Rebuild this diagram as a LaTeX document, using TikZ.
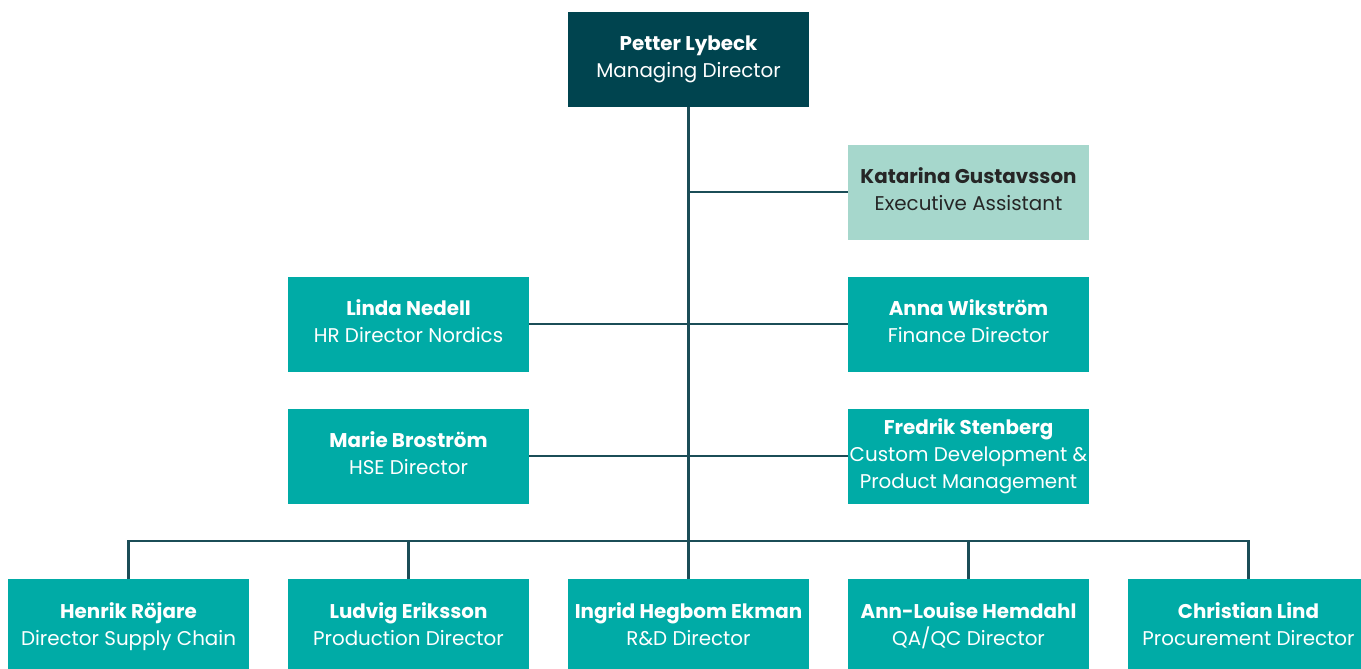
\documentclass[tikz,border=0pt]{standalone}
\usepackage{fontspec}
\setmainfont{Poppins}
\usepackage{tikz}
\usetikzlibrary{positioning}
\definecolor{mdteal}{HTML}{00444F}
\definecolor{boxteal}{HTML}{00ABA6}
\definecolor{assteal}{HTML}{A6D7CC}
\definecolor{linkteal}{HTML}{1B4D57}
\newcommand{\who}[2]{\strut\textbf{#1}\\\strut #2}
\tikzset{
    person/.style={
    rectangle,fill=boxteal,text=white,minimum width=4.82cm,minimum height=1.9cm,
    inner sep=0pt,align=center,font=\fontsize{11.3}{15.3}\selectfont
    },
    head/.style={
    person,fill=mdteal
    },
    assist/.style={
    person,fill=assteal,text=black!85
    },
    link/.style={
    draw=linkteal,line width=1.3pt
    },
}

\begin{document}
\begin{tikzpicture}
  \useasboundingbox (0,0) rectangle (27.22,-13.36);
   \node[head] (md) at (13.77,-1.18) {\who{Petter Lybeck}{Managing Director}};
   \node[assist] (ea) at (19.37,-3.84) {\who{Katarina Gustavsson}{Executive Assistant}};
   \node[person] (hr) at (8.17,-6.48) {\who{Linda Nedell}{HR Director Nordics}};
   \node[person] (fin) at (19.37,-6.48) {\who{Anna Wikström}{Finance Director}};
   \node[person] (hse) at (8.17,-9.12) {\who{Marie Broström}{HSE Director}};
   \node[person] (cdpm) at (19.37,-9.12) {\who{Fredrik Stenberg}{Custom Development \&}\\\strut Product Management};
   \node[person] (sc) at (2.57,-12.53) {\who{Henrik Röjare}{Director Supply Chain}};
   \node[person] (prod) at (8.17,-12.53) {\who{Ludvig Eriksson}{Production Director}};
   \node[person] (rd) at (13.77,-12.53) {\who{Ingrid Hegbom Ekman}{R\&D Director}};
   \node[person] (qa) at (19.37,-12.53) {\who{Ann-Louise Hemdahl}{QA/QC Director}};
   \node[person] (proc) at (24.97,-12.53) {\who{Christian Lind}{Procurement Director}};
   \coordinate (bus) at (13.77,-10.82);

  \path[link]
    (md.south) edge (rd.north)
    (md.south |- ea.west) edge (ea.west)
    (hr.east) edge (fin.west)
    (hse.east) edge (cdpm.west)
    (prod.north) edge (prod.north |- bus)
    (qa.north) edge (qa.north |- bus);
  \draw[link] (sc.north) |- (bus) -| (proc.north);
\end{tikzpicture}
\end{document}
